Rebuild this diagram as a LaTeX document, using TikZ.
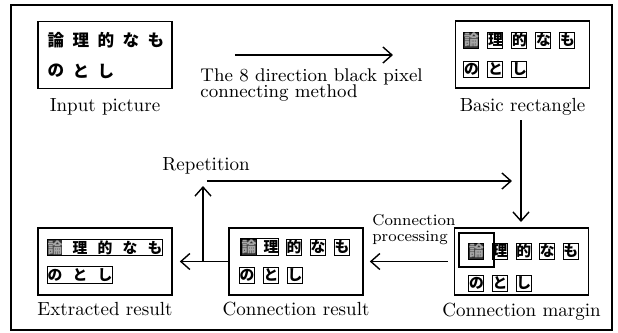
\documentclass[tikz,border=0pt]{standalone}
\usepackage{fontspec}
\newfontfamily\jpfont{Noto Sans CJK JP}
\usepackage{tikz}
\usetikzlibrary{arrows.meta,positioning}

\tikzset{
  panel/.style={draw,line width=0.8pt,minimum width=67pt,minimum height=33.5pt,inner sep=0pt},
  note/.style={inner sep=0pt,font=\fontsize{9.5}{10}\selectfont},
  kana/.style={inner sep=0pt,minimum width=7.5pt,minimum height=8pt,font=\jpfont\bfseries\fontsize{7.4}{7.4}\selectfont},
  plainkana/.style={kana,font=\jpfont\bfseries\fontsize{8.3}{8.3}\selectfont},
  kbox/.style={kana,draw,line width=0.5pt},
  kdark/.style={kbox,fill=black!80,text=black!35},
  kfill/.style={kana,fill=black!80,text=black!35},
  flow/.style={-{Straight Barb[length=4.5pt,width=8pt]},line width=0.7pt}
}

\begin{document}
\begin{tikzpicture}[x=0.5pt,y=-0.5pt]
        \useasboundingbox (0,0) rectangle (618,333);
        \draw[line width=1pt] (11,5) rectangle (612,330);

        % Panels
        \node[panel] (input)   at (105,55)    {};
        \node[panel] (basic)   at (522.5,54.5) {};
        \node[panel] (margin)  at (521.5,261.5) {};
        \node[panel] (result)  at (296,261.5) {};
        \node[panel] (extract) at (105,261.5) {};

        \node[note,below=4.5pt of input] (inputlbl) {Input picture};
        \node[note,below=4.5pt of basic] (basiclbl) {Basic rectangle};
        \node[note,below=3.5pt of margin] (marginlbl) {Connection margin};
        \node[note,below=3pt of result] (resultlbl) {Connection result};
        \node[note,below=3pt of extract] (extractlbl) {Extracted result};

        % Input picture: plain characters
        \foreach \c [count=\i from 0] in {論,理,的,な,も}
          \node[plainkana] (ina\i) at (56+25*\i,40) {\c};
        \foreach \c [count=\i from 0] in {の,と,し}
          \node[plainkana] (inb\i) at (56+25*\i,71) {\c};

        % Basic rectangle: one box per character
        \node[kdark] (bra0) at (471.5,40) {論};
        \foreach \c [count=\i from 1] in {理,的,な,も}
          \node[kbox] (bra\i) at (471.5+24*\i,40) {\c};
        \foreach \c [count=\i from 0] in {の,と,し}
          \node[kbox] (brb\i) at (471.5+24*\i,69) {\c};

        % Connection margin: boxes and the search zone
        \node[kdark] (mga0) at (476.5,251) {論};
        \foreach \c [count=\i from 1] in {理,的,な,も}
          \node[kbox] (mga\i) at (476.5+23.6*\i,251) {\c};
        \foreach \c [count=\i from 0] in {の,と,し}
          \node[kbox] (mgb\i) at (476.5+23.6*\i,283) {\c};
        \node[draw,line width=0.6pt,minimum width=17.5pt,minimum height=17pt] (zone) at (476.5,250) {};

        % Connection result
        \node[kdark] (cra0) at (249,247) {論};
        \node[kana] (cra1) at (271,247) {理};
        \draw[line width=0.5pt] (cra0.north west) rectangle (cra1.south east);
        \foreach \c [count=\i from 2] in {的,な,も}
          \node[kbox] (cra\i) at (246+24*\i,247) {\c};
        \foreach \c [count=\i from 0] in {の,と,し}
          \node[kbox] (crb\i) at (247+24*\i,275) {\c};

        % Extracted result: one box per line
        \node[kfill] (exa0) at (55,247.5) {論};
        \foreach \c [count=\i from 1] in {理,的,な,も}
          \node[kana] (exa\i) at (55+25*\i,247.5) {\c};
        \draw[line width=0.5pt] (exa0.north west) rectangle (exa4.south east);
        \foreach \c [count=\i from 0] in {の,と,し}
          \node[kana] (exb\i) at (55+25*\i,275) {\c};
        \draw[line width=0.5pt] (exb0.north west) rectangle (exb2.south east);

        % Arrows
        \coordinate (topa) at (235,55);
        \coordinate (topb) at (393,55);
        \draw[flow] (topa) -- (topb);
        \node[note,font=\fontsize{9.2}{8.3}\selectfont,align=left,anchor=north west] (method) at (200,68)
          {The 8 direction black pixel\\connecting method};

        \coordinate (downa) at (521,120);
        \coordinate (downb) at (521,222);
        \draw[flow] (downa) -- (downb);

        \draw[flow] ([xshift=-3pt]margin.west) -- ([xshift=3pt]result.east);
        \node[note,font=\fontsize{7.9}{8.2}\selectfont,align=left,anchor=north west] (process) at (372,214)
          {Connection\\processing};

        \draw[flow] (result.west) -- ([xshift=3.5pt]extract.east);
        \coordinate (rep0) at (203,261.5);
        \coordinate (rep1) at (203,186);
        \draw[flow] (rep0) -- (rep1);
        \coordinate (rep2) at (207,181);
        \coordinate (rep3) at (512,181);
        \draw[flow] (rep2) -- (rep3);
        \node[note,anchor=base west] (replbl) at (162,170) {Repetition};
    \end{tikzpicture}
\end{document}
